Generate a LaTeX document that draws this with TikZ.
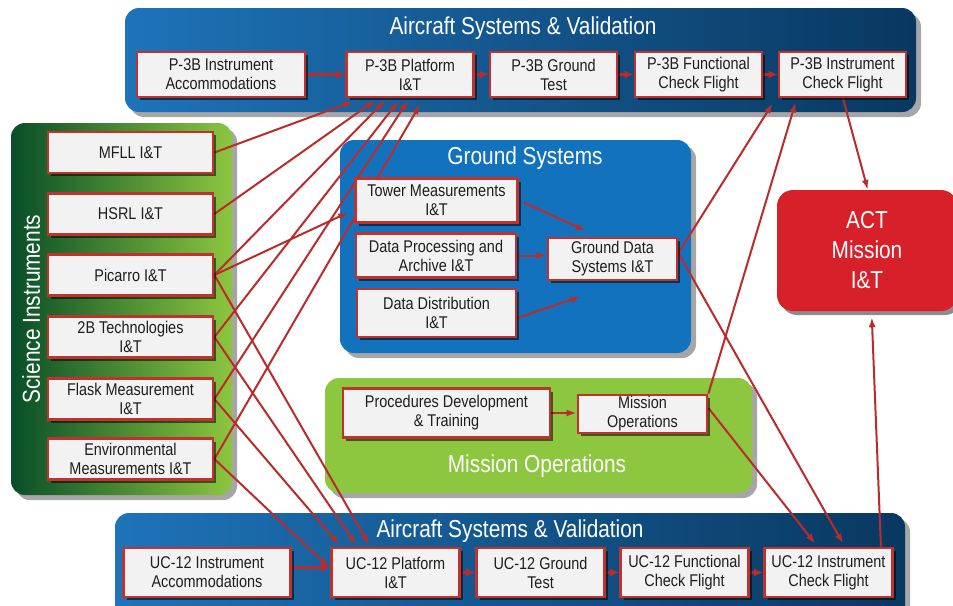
\documentclass[tikz,border=0pt]{standalone}
\usepackage{fontspec}
\setmainfont[FakeStretch=0.85]{Liberation Sans}
\usetikzlibrary{arrows.meta,shadows,calc}
\pgfdeclarelayer{bg}
\pgfdeclarelayer{conn}
\pgfsetlayers{bg,conn,main}
\definecolor{boxred}{RGB}{192,50,45}
\definecolor{linered}{RGB}{186,44,44}
\definecolor{boxfill}{RGB}{242,242,242}
\definecolor{acL}{RGB}{30,115,185}
\definecolor{acM}{RGB}{18,84,140}
\definecolor{acR}{RGB}{8,56,96}
\definecolor{gsblue}{RGB}{18,114,190}
\definecolor{sciL}{RGB}{8,78,40}
\definecolor{sciM}{RGB}{22,118,52}
\definecolor{sciR}{RGB}{140,198,63}
\definecolor{mogreen}{RGB}{141,198,63}
\definecolor{actred}{RGB}{215,32,42}
\definecolor{txt}{RGB}{30,30,30}
\begin{document}
\begin{tikzpicture}[x=1pt,y=-1pt,
  ibox/.style={draw=boxred, line width=2.8pt, fill=boxfill, align=center,
    inner sep=0pt, text=txt, font=\fontsize{17}{19}\selectfont,
    drop shadow={shadow xshift=3pt,shadow yshift=-3pt,opacity=0.55,fill=black}},
  paneltitle/.style={text=white, font=\fontsize{24.5}{28}\selectfont, inner sep=0pt},
  panelshadow/.style={drop shadow={shadow xshift=5pt,shadow yshift=-5pt,opacity=0.35,fill=black}},
  conn/.style={draw=linered, line width=2pt, -{Latex[length=10pt,width=7pt]}},
  chain/.style={draw=linered, line width=3pt, -{Latex[length=9pt,width=8pt]}}]
\useasboundingbox (0,0) rectangle (953,605);

% ---------- panels ----------
\begin{pgfonlayer}{bg}
\fill[white] (0,0) rectangle (953,605);
\path[panelshadow, left color=acL, middle color=acM, right color=acR, rounded corners=14pt] (125,8) rectangle (916,112);
\path[panelshadow, left color=acL, middle color=acM, right color=acR, rounded corners=14pt] (115,513) rectangle (905,625);
\path[panelshadow, left color=sciL, middle color=sciM, right color=sciR, rounded corners=14pt] (11,123) rectangle (232,495);
\path[panelshadow, fill=gsblue, rounded corners=14pt] (340,140) rectangle (691,353);
\path[panelshadow, fill=mogreen, rounded corners=14pt] (325,378) rectangle (752,493);
\end{pgfonlayer}

% ---------- panel titles ----------
\node[paneltitle] (t1) at (523,28) {Aircraft Systems \& Validation};
\node[paneltitle] (t2) at (510,531) {Aircraft Systems \& Validation};
\node[paneltitle, rotate=90] (t3) at (31,309) {Science Instruments};
\node[paneltitle] (t4) at (525,158) {Ground Systems};
\node[paneltitle] (t5) at (537,466) {Mission Operations};

% ---------- top row ----------
\node[ibox, minimum width=168pt, minimum height=45pt] (p3acc) at (221,74.5) {P-3B Instrument\\Accommodations};
\node[ibox, minimum width=127pt, minimum height=45pt] (p3plat) at (410,74.5) {P-3B Platform\\I\&T};
\node[ibox, minimum width=127pt, minimum height=45pt] (p3gt) at (553.5,74.5) {P-3B Ground\\Test};
\node[ibox, minimum width=127pt, minimum height=45pt] (p3fcf) at (698.5,74.5) {P-3B Functional\\Check Flight};
\node[ibox, minimum width=127pt, minimum height=45pt] (p3ins) at (842.5,74.5) {P-3B Instrument\\Check Flight};

% ---------- bottom row ----------
\node[ibox, minimum width=167pt, minimum height=49pt] (uacc) at (207,572.5) {UC-12 Instrument\\Accommodations};
\node[ibox, minimum width=128pt, minimum height=49pt] (uplat) at (395.5,572.5) {UC-12 Platform\\I\&T};
\node[ibox, minimum width=128pt, minimum height=49pt] (ugt) at (540.5,572.5) {UC-12 Ground\\Test};
\node[ibox, minimum width=128pt, minimum height=49pt] (ufcf) at (684.5,572.5) {UC-12 Functional\\Check Flight};
\node[ibox, minimum width=128pt, minimum height=49pt] (uins) at (828.5,572.5) {UC-12 Instrument\\Check Flight};

% ---------- science instruments ----------
\node[ibox, minimum width=165pt, minimum height=41pt] (mfll) at (130.5,152.5) {MFLL I\&T};
\node[ibox, minimum width=165pt, minimum height=41pt] (hsrl) at (130.5,214) {HSRL I\&T};
\node[ibox, minimum width=165pt, minimum height=41pt] (pic) at (130.5,275) {Picarro I\&T};
\node[ibox, minimum width=165pt, minimum height=41pt] (tb) at (130.5,337) {2B Technologies\\I\&T};
\node[ibox, minimum width=165pt, minimum height=41pt] (flask) at (130.5,399) {Flask Measurement\\I\&T};
\node[ibox, minimum width=165pt, minimum height=41pt] (env) at (130.5,459) {Environmental\\Measurements I\&T};

% ---------- ground systems ----------
\node[ibox, minimum width=162pt, minimum height=44pt] (tower) at (436.5,200.5) {Tower Measurements\\I\&T};
\node[ibox, minimum width=160pt, minimum height=44pt] (dproc) at (436,255.5) {Data Processing and\\Archive I\&T};
\node[ibox, minimum width=159pt, minimum height=48pt] (ddist) at (436.5,313) {Data Distribution\\I\&T};
\node[ibox, minimum width=129pt, minimum height=42pt] (gds) at (612.5,259) {Ground Data\\Systems I\&T};

% ---------- mission operations ----------
\node[ibox, minimum width=207pt, minimum height=49pt] (proc) at (446.5,413) {Procedures Development\\\& Training};
\node[ibox, minimum width=129pt, minimum height=38pt] (mops) at (642.5,414) {Mission\\Operations};

% ---------- ACT ----------
\node[fill=actred, rounded corners=16pt, minimum width=180pt, minimum height=121pt,
  align=center, text=white, font=\fontsize{24.5}{30}\selectfont, inner sep=0pt,
  drop shadow={shadow xshift=4pt,shadow yshift=-4pt,opacity=0.45,fill=black}]
  (act) at (867,250.5) {ACT\\Mission\\I\&T};

% ---------- connectors ----------
\begin{pgfonlayer}{conn}
% top chain
\draw[chain] (p3acc.east) -- (p3plat.west);
\draw[chain] (p3plat.east) -- (p3gt.west);
\draw[chain] (p3gt.east) -- (p3fcf.west);
\draw[chain] (p3fcf.east) -- (p3ins.west);
% bottom chain
\draw[chain] ($(uacc.east)+(0,-5)$) -- ($(uplat.west)+(0,-5)$);
\draw[chain] (uplat.east) -- (ugt.west);
\draw[chain] (ugt.east) -- (ufcf.west);
\draw[chain] (ufcf.east) -- (uins.west);
% science -> P-3B platform
\draw[conn] (mfll.east) -- ($(p3plat.south west)+(8,3)$);
\draw[conn] (hsrl.east) -- ($(p3plat.south west)+(30,2)$);
\draw[conn] (pic.east) -- ($(p3plat.south west)+(40,2)$);
\draw[conn] (tb.east) -- ($(p3plat.south west)+(53,3)$);
\draw[conn] (flask.east) -- ($(p3plat.south west)+(63,2)$);
\draw[conn] (env.east) -- ($(p3plat.south west)+(75,6)$);
% picarro -> tower
\draw[conn] (pic.east) -- ($(tower.west)+(-6,12)$);
% science -> UC-12 platform
\draw[conn] (pic.east) -- ($(uplat.north west)+(39,-2)$);
\draw[conn] (tb.east) -- ($(uplat.north west)+(26,-2)$);
\draw[conn] (flask.east) -- ($(uplat.north west)+(9,-2)$);
\draw[conn] (env.east) -- ($(uplat.west)+(-1,-5)$);
% ground systems internal
\draw[conn] ($(tower.east)+(5,2)$) -- ($(gds.north west)+(39,-6)$);
\draw[conn] (dproc.east) -- (dproc.east -| gds.west);
\draw[conn] ($(ddist.east)+(0,5)$) -- ($(gds.south west)+(34,15)$);
% ground data systems out
\draw[conn] ($(gds.east)+(0,-6)$) -- ($(p3ins.south west)+(-5,5)$);
\draw[conn] ($(gds.east)+(0,-6)$) -- ($(uins.north west)+(80,-3)$);
% mission operations
\draw[conn] (proc.east) -- (proc.east -| mops.west);
\draw[conn] (mops.north east) -- ($(p3ins.south west)+(18,4)$);
\draw[conn] ($(mops.east)+(0,-6)$) -- ($(uins.north west)+(52,-3)$);
% to ACT
\draw[conn] ($(p3ins.south)+(0.5,0)$) -- ($(act.north west)+(91,0)$);
\draw[conn] ($(uins.north east)+(-13,0)$) -- ($(act.south west)+(95,6)$);
\end{pgfonlayer}
\end{tikzpicture}
\end{document}
